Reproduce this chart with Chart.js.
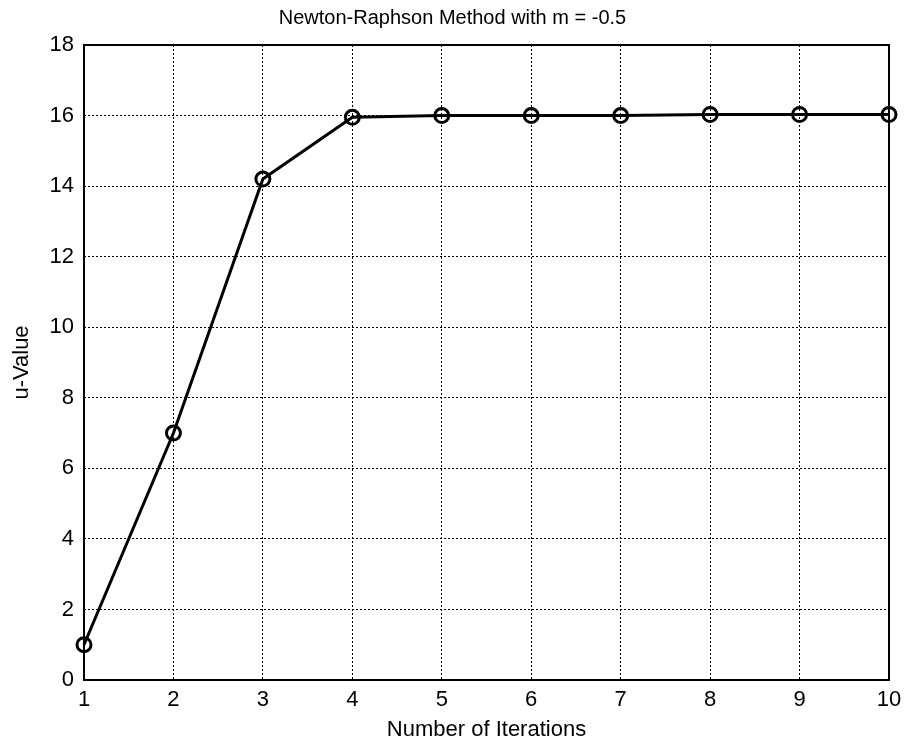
<!DOCTYPE html>
<html>
<head>
<meta charset="utf-8">
<style>
  html, body { margin: 0; padding: 0; background: #fff; }
  #wrap { width: 905px; height: 744px; }
</style>
<script src="https://cdn.jsdelivr.net/npm/chart.js@4"></script>
</head>
<body>
<div id="wrap"><canvas id="nrChart" width="905" height="744"></canvas></div>
<script>
const iterations = [1, 2, 3, 4, 5, 6, 7, 8, 9, 10];
const uValues = [1, 7, 14.2, 15.95, 16.0, 16.0, 16.0, 16.03, 16.03, 16.03];
const yTicks = [0, 2, 4, 6, 8, 10, 12, 14, 16, 18];

const ctx = document.getElementById('nrChart');
const font = 'Arial, "Liberation Sans", sans-serif';

// box around the plot area, like matlab's axes frame
const frame = {
  id: 'frame',
  afterDatasetsDraw(chart) {
    const { ctx, chartArea: a } = chart;
    ctx.save();
    ctx.strokeStyle = '#000';
    ctx.lineWidth = 2;
    ctx.strokeRect(a.left, a.top, a.right - a.left, a.bottom - a.top);
    ctx.restore();
  },
};

new Chart(ctx, {
  type: 'line',
  data: {
    datasets: [
      {
        data: iterations.map((x, i) => ({ x: x, y: uValues[i] })),
        borderColor: '#000',
        borderWidth: 3,
        pointStyle: 'circle',
        pointRadius: 7,
        pointBorderWidth: 3,
        pointBackgroundColor: 'rgba(0,0,0,0)',
        pointBorderColor: '#000',
        tension: 0,
        clip: false,
      },
    ],
  },
  options: {
    responsive: false,
    animation: false,
    layout: { padding: 0 },
    plugins: {
      legend: { display: false },
      tooltip: { enabled: false },
      title: {
        display: true,
        text: 'Newton-Raphson Method with m = -0.5',
        color: '#000',
        font: { family: font, size: 20, weight: 'normal', lineHeight: 1.2 },
        padding: { top: 6, bottom: 15 },
      },
    },
    scales: {
      x: {
        type: 'linear',
        min: 1,
        max: 10,
        afterBuildTicks: s => { s.ticks = iterations.map(v => ({ value: v })); },
        afterFit: s => {
          s.height = 64;
          s.paddingRight = 16;
        },
        grid: {
          color: '#000',
          lineWidth: 1,
          drawTicks: false,
        },
        border: { display: false, dash: [2, 2] },
        ticks: {
          color: '#000',
          padding: 7,
          font: { family: font, size: 22 },
        },
        title: {
          display: true,
          text: 'Number of Iterations',
          color: '#000',
          font: { family: font, size: 22 },
          padding: { top: 0, bottom: 1 },
        },
      },
      y: {
        min: 0,
        max: 18,
        afterBuildTicks: s => { s.ticks = yTicks.map(v => ({ value: v })); },
        afterFit: s => { s.width = 84; },
        grid: {
          color: '#000',
          lineWidth: 1,
          drawTicks: false,
        },
        border: { display: false, dash: [2, 2] },
        ticks: {
          color: '#000',
          padding: 10,
          font: { family: font, size: 22 },
        },
        title: {
          display: true,
          text: 'u-Value',
          color: '#000',
          font: { family: font, size: 22 },
          padding: { top: 9, bottom: 0 },
        },
      },
    },
  },
  plugins: [frame],
});
</script>
</body>
</html>
